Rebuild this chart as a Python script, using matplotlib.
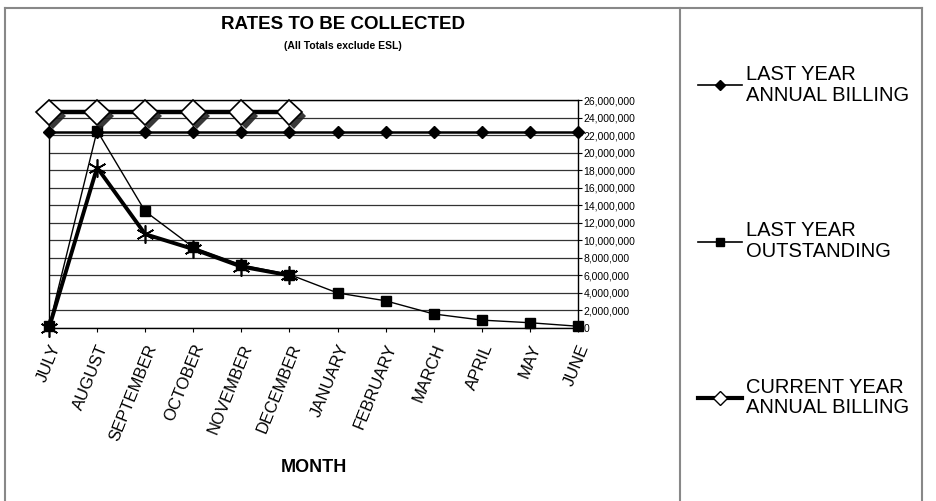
import numpy as np
import matplotlib.pyplot as plt
import matplotlib.patheffects as pe
from matplotlib.lines import Line2D
from matplotlib.ticker import FuncFormatter

# data
months = ["JULY", "AUGUST", "SEPTEMBER", "OCTOBER", "NOVEMBER", "DECEMBER",
          "JANUARY", "FEBRUARY", "MARCH", "APRIL", "MAY", "JUNE"]
last_year_billing = [22300000] * 12
last_year_outstanding = [200000, 22500000, 13300000, 9200000, 7200000, 6100000,
                         4000000, 3100000, 1600000, 900000, 600000, 200000]
current_year_billing = [24600000] * 6
current_year_outstanding = [0, 18300000, 10700000, 9000000, 7000000, 6000000]

plt.rcParams['font.family'] = ['Liberation Sans', 'DejaVu Sans']

fig = plt.figure(figsize=(9.37, 5.01), dpi=100)
ax = fig.add_axes([49 / 937, 1 - 328 / 501, (578 - 49) / 937, (328 - 100) / 501])

x = np.arange(len(months))

ax.plot(x, last_year_outstanding, color='black', lw=1, marker='s', ms=7,
        zorder=3, clip_on=False)
ax.plot(x[:6], current_year_outstanding, color='black', lw=2.8,
        marker=(6, 2, 0), ms=13, mew=1.2, zorder=4, clip_on=False)
ax.plot(x, last_year_billing, color='black', lw=1.8, marker='D', ms=6,
        zorder=3, clip_on=False)
# current year billing: thick line, then shadowed white diamonds on top
ax.plot(x[:6], current_year_billing, color='black', lw=3.2, zorder=5, clip_on=False)
ax.plot(x[:6], current_year_billing, ls='none', marker='D', ms=13,
        mfc='white', mec='black', mew=1.2, zorder=6, clip_on=False,
        path_effects=[pe.SimplePatchShadow(offset=(3, -3), shadow_rgbFace='#222222', alpha=0.9),
                      pe.Normal()])

ax.set_xlim(0, 11)
ax.set_ylim(0, 26000000)
ax.set_yticks(np.arange(0, 26000001, 2000000))
ax.yaxis.tick_right()
ax.yaxis.set_major_formatter(FuncFormatter(lambda v, p: f"{int(v):,}"))
ax.tick_params(axis='y', labelsize=7.5, length=3, pad=1)
ax.grid(axis='y', color='#333333', lw=0.9)
ax.set_axisbelow(True)
for s in ax.spines.values():
    s.set_color('black')
    s.set_linewidth(1)

ax.set_xticks(x)
ax.set_xticklabels(months, rotation=68, ha='right', va='top', rotation_mode='anchor', fontsize=12)
ax.tick_params(axis='x', length=3, pad=7)
ax.set_xlabel("MONTH", fontsize=13, fontweight='bold', labelpad=12)

fig.text(343 / 937, 1 - 16 / 501, "RATES TO BE COLLECTED", ha='center', va='top',
         fontsize=13.5, fontweight='bold')
fig.text(343 / 937, 1 - 46 / 501, "(All Totals exclude ESL)", ha='center', va='center',
         fontsize=7.5, fontweight='bold')

# frame boxes
fc = '#888888'
fig.add_artist(Line2D([5 / 937, 922 / 937], [1 - 8 / 501] * 2, color=fc, lw=1.5))
for xx in [5, 680, 922]:
    fig.add_artist(Line2D([xx / 937] * 2, [0, 1 - 8 / 501], color=fc, lw=1.5))

# legend
handles = [
    Line2D([], [], color='black', lw=1.2, marker='D', ms=5),
    Line2D([], [], color='black', lw=1.2, marker='s', ms=6),
    Line2D([], [], color='black', lw=3, marker='D', ms=7, mfc='white', mec='black'),
]
labels = ["LAST YEAR\nANNUAL BILLING", "LAST YEAR\nOUTSTANDING", "CURRENT YEAR\nANNUAL BILLING"]
leg = fig.legend(handles, labels, loc='upper left', bbox_to_anchor=(680 / 937, 1 - 47 / 501),
                 frameon=False, fontsize=14.5, handlelength=2.2, handletextpad=0.2,
                 labelspacing=5.8)
for t in leg.get_texts():
    t.set_linespacing(1.1)

fig.savefig('out.png', dpi=100)
